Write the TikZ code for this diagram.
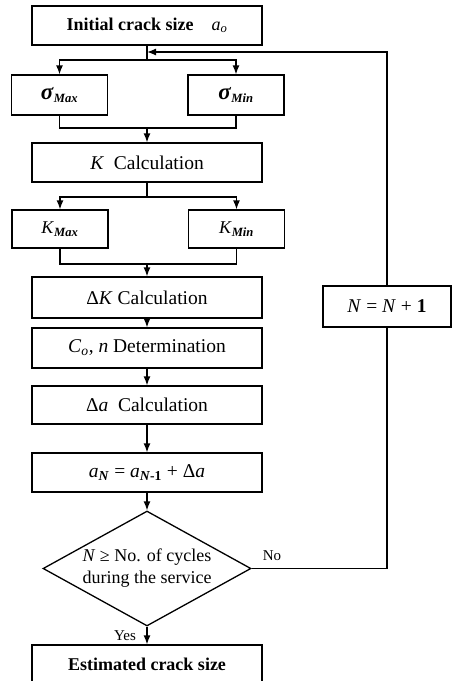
\documentclass[tikz,border=0pt]{standalone}
\usepackage{fontspec}
\setmainfont{Liberation Serif}
\usetikzlibrary{shapes.geometric,arrows.meta}

\begin{document}
\begin{tikzpicture}[x=1pt,y=-1pt,line width=1.3pt,
  txt/.style={font=\fontsize{18}{22}\selectfont},
  big/.style={font=\fontsize{19.5}{22}\selectfont},
  box/.style={draw,txt,rectangle,minimum width=230pt,minimum height=39pt,inner sep=0pt},
  sbox/.style={box,minimum width=96pt,minimum height=40pt},
  test/.style={draw,txt,diamond,aspect=1.81,minimum width=208pt,minimum height=115pt,inner sep=0pt,align=center},
  arr/.style={-{Latex[length=9pt,width=7pt]}},
  lbl/.style={font=\fontsize{15}{18}\selectfont}]
  \useasboundingbox (0,0) rectangle (453,681);

  % main column
  \node[box] (init) at (147,25.5) {\textbf{Initial crack size}\quad\textit{a}\textsubscript{\textit{o}}};
  \node[sbox] (smax) at (59.5,95) {{\fontsize{23}{24}\selectfont\textbf{\textit{σ}}}\textsubscript{\textbf{\textit{Max}}}};
  \node[sbox] (smin) at (236,95) {{\fontsize{23}{24}\selectfont\textbf{\textit{σ}}}\textsubscript{\textbf{\textit{Min}}}};
  \node[box,big] (kcalc) at (147,162.5) {\textit{K} \ Calculation};
  \node[sbox,minimum height=38pt] (kmax) at (60,229) {\textit{K}\textsubscript{\textbf{\textit{Max}}}};
  \node[sbox,minimum height=38pt] (kmin) at (236.5,229) {\textit{K}\textsubscript{\textbf{\textit{Min}}}};
  \node[box,big,minimum height=41pt] (dk) at (147,297.5) {Δ\textit{K} Calculation};
  \node[box,big,minimum height=40pt] (coef) at (147,348) {\textit{C}\textsubscript{\textit{o}}, \textit{n} Determination};
  \node[box,big,minimum height=38pt] (da) at (147,405) {Δ\textit{a} \ Calculation};
  \node[box,big] (an) at (147,472.5) {\textit{a}\textsubscript{\textbf{\textit{N}}} = \textit{a}\textsubscript{\textbf{\textit{N}-1}} + Δ\textit{a}};
  \node[test] (check) at (147,568.5) {\textit{N} ≥ No. of cycles\\during the service};
  \node[box] (est) at (147,664.5) {\textbf{Estimated crack size}};

  % loop box
  \node[box,big,minimum width=128pt,minimum height=41pt] (incr) at (387,306.5) {\textit{N} = \textit{N} + \textbf{1}};

  \node[lbl] (no) at (272,556) {No};
  \node[lbl] (yes) at (125,636) {Yes};

  \coordinate (back) at (147,52);
  \coordinate (split1) at (147,60);
  \coordinate (merge1) at (147,128);
  \coordinate (split2) at (147,197);
  \coordinate (merge2) at (147,264);

  \draw (init) -- (split1);
  \draw[arr] (split1) -| (smax.north);
  \draw[arr] (split1) -| (smin.north);
  \draw (smax.south) |- (merge1);
  \draw (smin.south) |- (merge1);
  \draw[arr] (merge1) -- (kcalc);

  \draw (kcalc) -- (split2);
  \draw[arr] (split2) -| (kmax.north);
  \draw[arr] (split2) -| (kmin.north);
  \draw (kmax.south) |- (merge2);
  \draw (kmin.south) |- (merge2);
  \draw[arr] (merge2) -- (dk);

  \draw[arr] (dk) -- (coef);
  \draw[arr] (coef) -- (da);
  \draw[arr] (da) -- (an);
  \draw[arr] (an) -- (check);
  \draw[arr] (check) -- (est);

  \draw (check.east) -| (incr.south);
  \draw[arr] (incr.north) |- (back);
\end{tikzpicture}
\end{document}
